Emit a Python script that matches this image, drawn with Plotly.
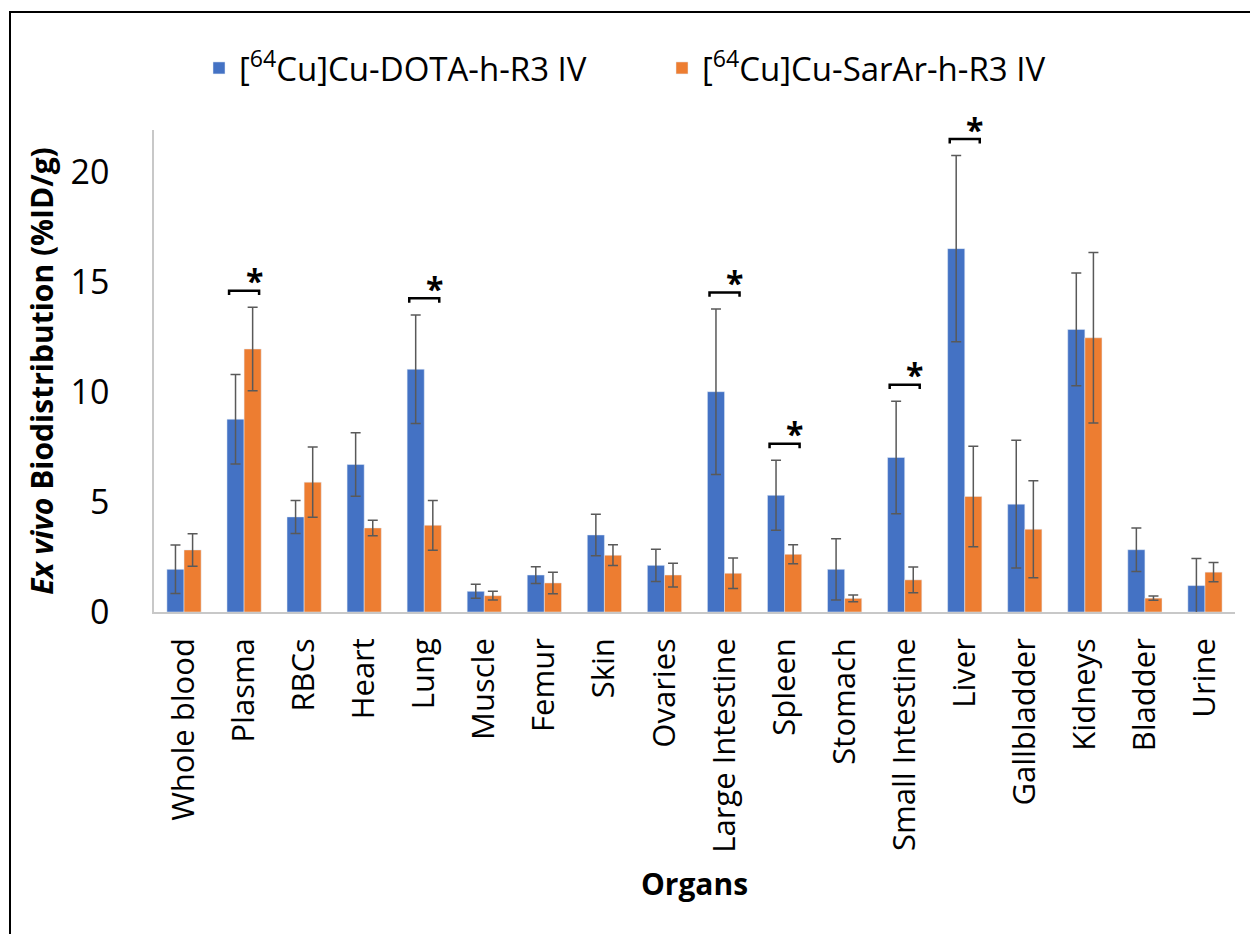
import plotly.graph_objects as go

organs = ["Whole blood", "Plasma", "RBCs", "Heart", "Lung", "Muscle", "Femur", "Skin",
          "Ovaries", "Large Intestine", "Spleen", "Stomach", "Small Intestine", "Liver",
          "Gallbladder", "Kidneys", "Bladder", "Urine"]
dota = [1.94, 8.76, 4.32, 6.70, 11.03, 0.94, 1.68, 3.50, 2.12, 10.01, 5.30, 1.94, 7.02,
        16.51, 4.90, 12.84, 2.83, 1.20]
dota_err = [1.10, 2.03, 0.75, 1.44, 2.47, 0.32, 0.38, 0.94, 0.73, 3.76, 1.59, 1.39, 2.56,
            4.23, 2.90, 2.56, 0.99, 1.23]
sar = [2.82, 11.95, 5.90, 3.82, 3.94, 0.74, 1.32, 2.58, 1.68, 1.76, 2.62, 0.62, 1.46,
       5.25, 3.76, 12.46, 0.63, 1.81]
sar_err = [0.74, 1.90, 1.60, 0.35, 1.13, 0.20, 0.49, 0.47, 0.54, 0.69, 0.43, 0.15, 0.59,
           2.28, 2.20, 3.87, 0.10, 0.44]
significant = ["Plasma", "Lung", "Large Intestine", "Spleen", "Small Intestine", "Liver"]
yticks = [0, 5, 10, 15, 20]

W, H = 1250, 934
ML, MR, MT, MB = 154, 15, 130, 322
FONT = "Open Sans"
BLUE, ORANGE = "#4472C4", "#ED7D31"
ERRC = "#595959"

xs = list(range(len(organs)))
fig = go.Figure()
fig.add_trace(go.Bar(
    x=xs, y=dota, name="[<sup>64</sup>Cu]Cu-DOTA-h-R3 IV", marker_color=BLUE,
    error_y=dict(type="data", array=dota_err, color=ERRC, thickness=1.5, width=5)))
fig.add_trace(go.Bar(
    x=xs, y=sar, name="[<sup>64</sup>Cu]Cu-SarAr-h-R3 IV", marker_color=ORANGE,
    error_y=dict(type="data", array=sar_err, color=ERRC, thickness=1.5, width=5)))

annotations = []
for org in significant:
    i = organs.index(org)
    top = max(dota[i] + dota_err[i], sar[i] + sar_err[i]) + 0.75
    half, drop = 0.25, 0.2
    fig.add_trace(go.Scatter(
        x=[i - half, i - half, i + half, i + half],
        y=[top - drop, top, top, top - drop],
        mode="lines", line=dict(color="black", width=2.5),
        showlegend=False, hoverinfo="skip"))
    annotations.append(dict(
        x=i + 0.17, y=top, xref="x", yref="y", text="<b>*</b>", showarrow=False,
        font=dict(family=FONT, size=32, color="black"),
        yanchor="middle", yshift=10))

pw = W - ML - MR
ph = H - MT - MB
fig.add_shape(type="rect", xref="paper", yref="paper",
              x0=(10 - ML) / pw, x1=(W + 20 - ML) / pw,
              y0=(H - MB - (H + 20)) / ph, y1=(H - MB - 12) / ph,
              line=dict(color="black", width=2), fillcolor="rgba(0,0,0,0)", layer="above")

fig.update_layout(
    width=W, height=H,
    margin=dict(l=ML, r=MR, t=MT, b=MB, autoexpand=False),
    paper_bgcolor="white", plot_bgcolor="white",
    barmode="group", bargap=0.43, bargroupgap=0,
    font=dict(family=FONT, size=31, color="black"),
    showlegend=True,
    legend=dict(orientation="h", x=(199 - ML) / pw, xanchor="left",
                y=(H - MB - 68) / ph, yanchor="middle",
                font=dict(family=FONT, size=33, color="black"),
                entrywidth=418, entrywidthmode="pixels", traceorder="normal"),
    annotations=annotations,
    xaxis=dict(
        range=[-0.5, len(organs) - 0.5], tickmode="array", tickvals=xs, ticktext=organs,
        tickangle=-90, showline=True, linecolor="#C8C8C8", linewidth=1.5,
        showgrid=False, zeroline=False, ticks="", ticklabelstandoff=12,
        tickfont=dict(family=FONT, size=31, color="black"),
        title=dict(text="<b>Organs</b>", font=dict(family=FONT, size=30, color="black"),
                   standoff=22)),
    yaxis=dict(
        range=[0, 21.9], tickmode="array", tickvals=yticks,
        showline=True, linecolor="#C8C8C8", linewidth=1.5,
        showgrid=False, zeroline=False, ticks="", ticklabelstandoff=36,
        tickfont=dict(family=FONT, size=34, color="black"),
        title=dict(text="<b><i>Ex vivo</i> Biodistribution (%ID/g)</b>",
                   font=dict(family=FONT, size=30, color="black"), standoff=8)),
)

fig.write_html("out.html")
